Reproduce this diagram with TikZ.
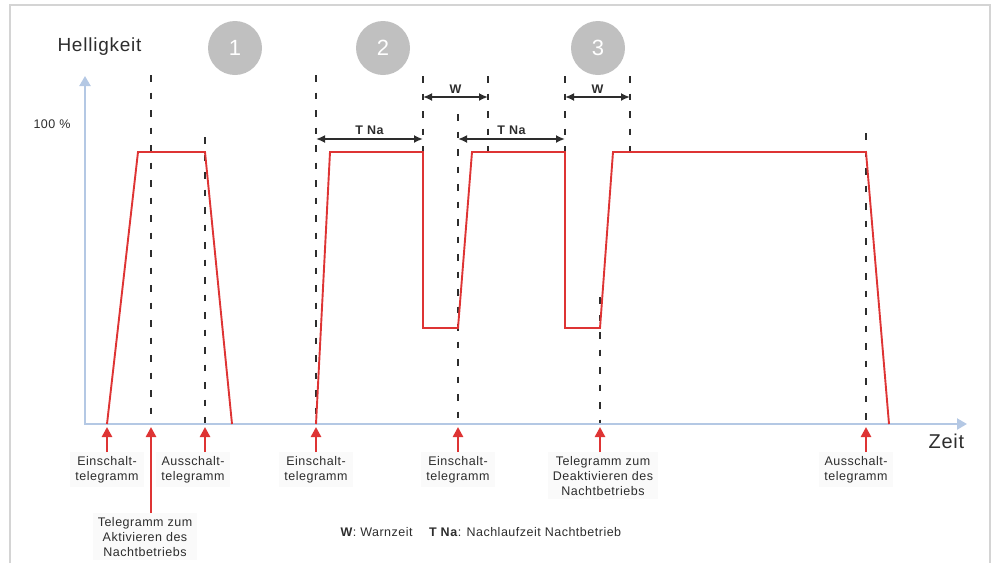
\documentclass[tikz,border=0pt]{standalone}
\usepackage{fontspec}
\setmainfont[LetterSpace=4]{Liberation Sans}
\usetikzlibrary{arrows.meta}
\definecolor{AxisBlue}{RGB}{180,200,228}
\definecolor{CurveRed}{RGB}{222,52,52}
\definecolor{DiscGray}{RGB}{192,192,192}
\definecolor{FrameGray}{RGB}{212,212,212}
\definecolor{InkGray}{RGB}{45,45,45}
\tikzset{
  axis/.style={draw=AxisBlue,line width=2.2pt,{Triangle[length=10pt,width=11pt]}-{Triangle[length=10pt,width=11pt]}},
  curve/.style={draw=CurveRed,line width=1.9pt},
  guide/.style={draw=InkGray,line width=2.2pt,dash pattern=on 6.5pt off 11pt},
  span/.style={draw=InkGray,line width=2pt,{Latex[length=9pt,width=8pt]}-{Latex[length=9pt,width=8pt]}},
  trig/.style={draw=CurveRed,line width=2.8pt,-{Triangle[length=10pt,width=10pt]}},
  disc/.style={circle,fill=DiscGray,minimum size=54pt,inner sep=0pt,text=white,font=\fontsize{22}{22}\selectfont},
  lab/.style={anchor=north,fill=black!2,align=center,inner xsep=5pt,inner ysep=4pt,text=InkGray,font=\fontsize{12.5}{15}\selectfont},
  dimlab/.style={above=3pt,inner sep=0pt,text=InkGray,font=\fontsize{12.5}{15}\selectfont\bfseries},
}

\begin{document}
\begin{tikzpicture}[x=1pt,y=-1pt]
\useasboundingbox (0,0) rectangle (995,563);
\draw[FrameGray,line width=1.5pt] (10,563) -- (10,5) -- (990,5) -- (990,563);

% axes
\coordinate (O) at (85,424);
\coordinate (ytop) at (85,76);
\coordinate (xend) at (967,424);
\node[anchor=base west,text=InkGray,font=\fontsize{19}{19}\selectfont] (ylab) at (54,51) {Helligkeit};
\node[anchor=base west,text=InkGray,font=\fontsize{20}{20}\selectfont] (xlab) at (925,448) {Zeit};
\node[anchor=base west,text=InkGray,font=\fontsize{12.5}{15}\selectfont] (full) at (30,128) {100 \%};

% phase numbers
\node[disc] (ph1) at (235,48) {1};
\node[disc] (ph2) at (383,48) {2};
\node[disc] (ph3) at (598,48) {3};

% dashed event lines
\draw[guide] (151,75) -- (151,424);
\draw[guide] (205,137) -- (205,424);
\draw[guide] (316,75) -- (316,424);
\draw[guide] (423,76) -- (423,152);
\draw[guide] (458,114) -- (458,424);
\draw[guide] (488,76) -- (488,152);
\draw[guide] (565,76) -- (565,152);
\draw[guide] (630,76) -- (630,152);
\draw[guide] (600,297) -- (600,424);
\draw[guide] (866,133) -- (866,424);

\draw[axis] (ytop) -- (O) -- (xend);

% brightness
\coordinate (c0) at (107,424);
\coordinate (c1) at (138,152);
\coordinate (c2) at (205,152);
\coordinate (c3) at (232,424);
\draw[curve] (c0) -- (c1) -- (c2) -- (c3);
\coordinate (p0) at (316,424);
\coordinate (p1) at (330,152);
\coordinate (p2) at (423,152);
\coordinate (p3) at (423,328);
\coordinate (p4) at (458,328);
\coordinate (p5) at (472,152);
\coordinate (p6) at (565,152);
\coordinate (p7) at (565,328);
\coordinate (p8) at (600,328);
\coordinate (p9) at (613,152);
\coordinate (p10) at (866,152);
\coordinate (p11) at (889,424);
\draw[curve] (p0) -- (p1) -- (p2) -- (p3) -- (p4) -- (p5) -- (p6) -- (p7) -- (p8) -- (p9) -- (p10) -- (p11);

% time spans
\coordinate (s1) at (316,139);
\coordinate (s2) at (423,139);
\coordinate (s3) at (458,139);
\coordinate (s4) at (565,139);
\coordinate (w1) at (423,97);
\coordinate (w2) at (488,97);
\coordinate (w3) at (565,97);
\coordinate (w4) at (630,97);
\draw[span] (s1) -- node[dimlab] {T Na} (s2);
\draw[span] (s3) -- node[dimlab] {T Na} (s4);
\draw[span] (w1) -- node[dimlab] {W} (w2);
\draw[span] (w3) -- node[dimlab] {W} (w4);

% telegrams
\node[lab] (e1) at (107,452) {Einschalt-\\telegramm};
\node[lab] (a1) at (193,452) {Ausschalt-\\telegramm};
\node[lab] (n1) at (145,513) {Telegramm zum\\Aktivieren des\\Nachtbetriebs};
\node[lab] (e2) at (316,452) {Einschalt-\\telegramm};
\node[lab] (e3) at (458,452) {Einschalt-\\telegramm};
\node[lab] (n2) at (603,452) {Telegramm zum\\Deaktivieren des\\Nachtbetriebs};
\node[lab] (a2) at (856,452) {Ausschalt-\\telegramm};
\coordinate (t1) at (107,427);
\coordinate (t2) at (151,427);
\coordinate (t3) at (205,427);
\coordinate (t4) at (316,427);
\coordinate (t5) at (458,427);
\coordinate (t6) at (600,427);
\coordinate (t7) at (866,427);
\draw[trig] (t1 |- e1.north) -- (t1);
\draw[trig] (t2 |- n1.north) -- (t2);
\draw[trig] (t3 |- a1.north) -- (t3);
\draw[trig] (t4 |- e2.north) -- (t4);
\draw[trig] (t5 |- e3.north) -- (t5);
\draw[trig] (t6 |- n2.north) -- (t6);
\draw[trig] (t7 |- a2.north) -- (t7);

\node[anchor=base west,text=InkGray,font=\fontsize{12.5}{15}\selectfont] (legend) at (337,536)
  {\textbf{W}: Warnzeit\hspace{16pt}\textbf{T Na}: Nachlaufzeit Nachtbetrieb};
\end{tikzpicture}
\end{document}
